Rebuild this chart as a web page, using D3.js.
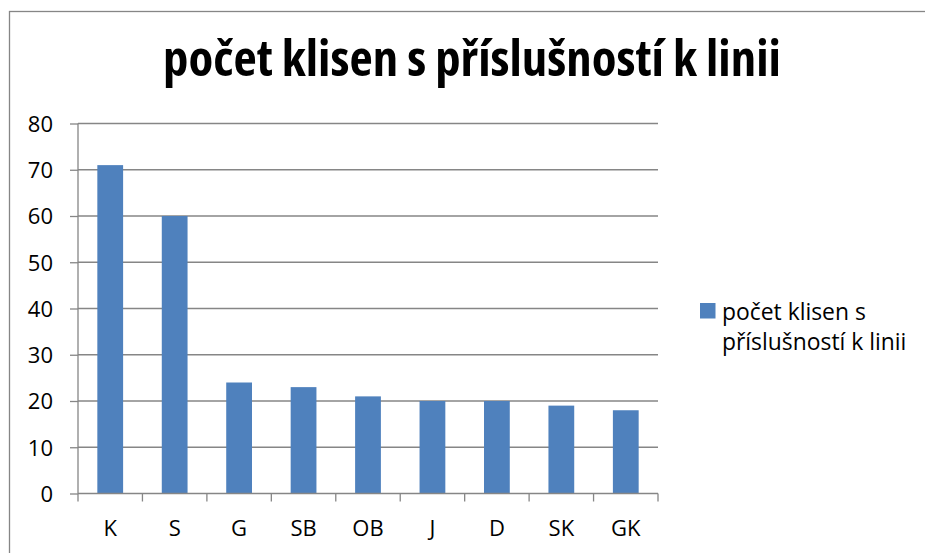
<!DOCTYPE html>
<html><head><meta charset="utf-8">
<script src="https://cdn.jsdelivr.net/npm/d3@7/dist/d3.min.js"></script>
<style>html,body{margin:0;padding:0;background:#fff;}svg{display:block;}</style>
</head><body>
<script>
const categories = ["K","S","G","SB","OB","J","D","SK","GK"];
const values = [71,60,24,23,21,20,20,19,18];
const yTicks = [0,10,20,30,40,50,60,70,80];
const title = "počet klisen s příslušností k linii";
const legendLines = ["počet klisen s","příslušností k linii"];

(function(){
const W = 925, H = 553;
const font = "'Open Sans','Noto Sans',sans-serif";
const svg = d3.select("body").append("svg").attr("width", W).attr("height", H);

svg.append("rect").attr("x", 9.5).attr("y", 11.5).attr("width", 950).attr("height", 600)
  .attr("fill", "#fff").attr("stroke", "#868686").attr("stroke-width", 1.3);

const pL = 78, pR = 658, pT = 123.5, pB = 493.5;
const x = d3.scaleBand().domain(categories).range([pL, pR]).paddingInner(0.6).paddingOuter(0.3);
const xb = d3.scaleBand().domain(categories).range([pL, pR]);
const y = d3.scaleLinear().domain([0, 80]).range([pB, pT]);

// gridlines
svg.append("g").selectAll("line").data(yTicks.filter(d => d > 0)).join("line")
  .attr("x1", pL).attr("x2", pR).attr("y1", d => y(d)).attr("y2", d => y(d))
  .attr("stroke", "#868686").attr("stroke-width", 1.3);

// bars
svg.append("g").selectAll("rect").data(values).join("rect")
  .attr("x", (d, i) => x(categories[i])).attr("width", x.bandwidth())
  .attr("y", d => y(d)).attr("height", d => y(0) - y(d))
  .attr("fill", "#4F81BD");

// y axis
const yAxis = d3.axisLeft(y).tickValues(yTicks).tickSize(8).tickPadding(17);
const gy = svg.append("g").attr("transform", `translate(${pL},0)`).call(yAxis);
gy.select(".domain").attr("d", `M0,${pT}V${pB}`);
gy.selectAll("path,line").attr("stroke", "#868686").attr("stroke-width", 1.3);
gy.selectAll("text").attr("font-family", font).attr("font-size", 22).attr("fill", "#000").attr("dy", "0.36em");

// x axis
const xAxis = d3.axisBottom(xb).tickSize(0).tickPadding(0);
const gx = svg.append("g").attr("transform", `translate(0,${pB})`).call(xAxis);
gx.select(".domain").attr("d", `M${pL},0H${pR}`);
gx.selectAll("path").attr("stroke", "#868686").attr("stroke-width", 1.3);
gx.selectAll("text").attr("font-family", font).attr("font-size", 22).attr("fill", "#000").attr("y", 42.5).attr("dy", 0);
// category boundary ticks
const bounds = categories.map(c => xb(c)).concat([pR]);
svg.append("g").selectAll("line").data(bounds).join("line")
  .attr("x1", d => d).attr("x2", d => d).attr("y1", pB).attr("y2", pB + 8)
  .attr("stroke", "#868686").attr("stroke-width", 1.3);

// title
const t = svg.append("text").attr("x", 472).attr("y", 76).attr("text-anchor", "middle")
  .attr("font-family", font).attr("font-weight", "bold").style("font-stretch", "87.5%")
  .attr("font-size", 36).attr("fill", "#000").text(title);
const tw = t.node().getComputedTextLength();
t.attr("font-size", 36 * 618 / tw);

// legend
svg.append("rect").attr("x", 700).attr("y", 303).attr("width", 15.5).attr("height", 15.5).attr("fill", "#4F81BD");
const lg = svg.append("g").selectAll("text").data(legendLines).join("text")
  .attr("x", 722).attr("y", (d, i) => 320 + i * 30)
  .attr("font-family", font).attr("font-size", 20).attr("fill", "#000").text(d => d);
const lw = lg.nodes()[0].getComputedTextLength();
lg.attr("font-size", Math.min(23, 20 * 144 / lw));
})();
</script>
</body></html>
